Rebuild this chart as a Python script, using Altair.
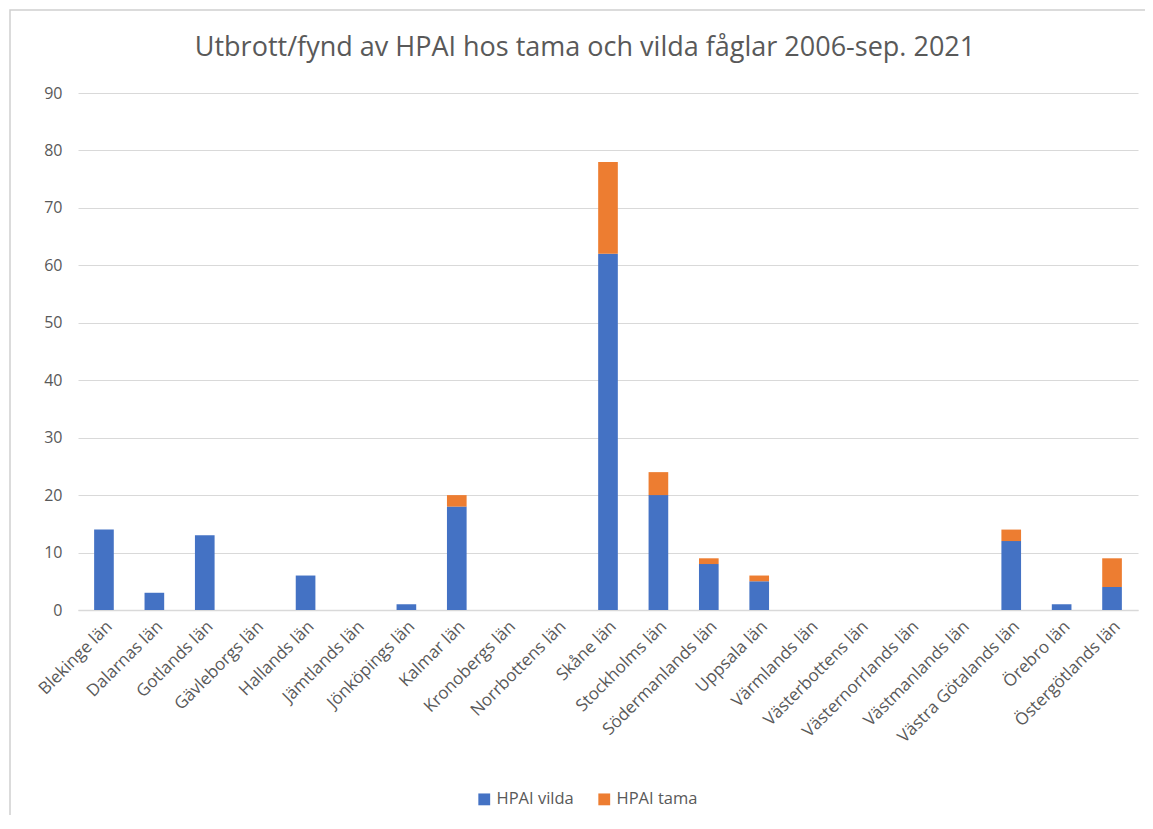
import altair as alt
import pandas as pd

lan = ["Blekinge län", "Dalarnas län", "Gotlands län", "Gävleborgs län", "Hallands län",
       "Jämtlands län", "Jönköpings län", "Kalmar län", "Kronobergs län", "Norrbottens län",
       "Skåne län", "Stockholms län", "Södermanlands län", "Uppsala län", "Värmlands län",
       "Västerbottens län", "Västernorrlands län", "Västmanlands län", "Västra Götalands län",
       "Örebro län", "Östergötlands län"]
vilda = [14, 3, 13, 0, 6, 0, 1, 18, 0, 0, 62, 20, 8, 5, 0, 0, 0, 0, 12, 1, 4]
tama = [0, 0, 0, 0, 0, 0, 0, 2, 0, 0, 16, 4, 1, 1, 0, 0, 0, 0, 2, 0, 5]
series = ["HPAI vilda", "HPAI tama"]
colors = ["#4472C4", "#ED7D31"]
title = "Utbrott/fynd av HPAI hos tama och vilda fåglar 2006-sep. 2021"

rows = []
for i, l in enumerate(lan):
    rows.append({"lan": l, "serie": series[0], "v": vilda[i], "o": 0})
    rows.append({"lan": l, "serie": series[1], "v": tama[i], "o": 1})
df = pd.DataFrame(rows)

FONT = "Open Sans"
GREY = "#595959"

bars = alt.Chart(df).mark_bar().encode(
    x=alt.X("lan:N", sort=lan, title=None,
            scale=alt.Scale(paddingInner=0.61, paddingOuter=0.32),
            axis=alt.Axis(labelAngle=-45, labelFontSize=17, labelColor=GREY, labelFont=FONT,
                          ticks=False, domainColor="#d9d9d9", domainWidth=1.5, labelPadding=8,
                          labelLimit=300)),
    y=alt.Y("v:Q", stack="zero", title=None,
            scale=alt.Scale(domain=[0, 90]),
            axis=alt.Axis(values=list(range(0, 91, 10)), labelFontSize=16, labelColor=GREY,
                          labelFont=FONT, ticks=False, domain=False, gridColor="#d9d9d9",
                          gridWidth=1.2, labelPadding=16)),
    color=alt.Color("serie:N", scale=alt.Scale(domain=series, range=colors),
                    legend=alt.Legend(title=None, orient="none", direction="horizontal",
                                      legendX=398, legendY=698, symbolType="square",
                                      symbolSize=140, symbolStrokeWidth=0,
                                      labelFontSize=16.5, labelColor=GREY, labelFont=FONT,
                                      columnPadding=22)),
    order=alt.Order("o:Q"),
)

frame = alt.Chart(pd.DataFrame({"a": [0]})).mark_rect(
    fill=None, stroke="#d0d0d0", strokeWidth=1.5
).encode(x=alt.value(-68), x2=alt.value(1100), y=alt.value(-83), y2=alt.value(760))

title_text = alt.Chart(pd.DataFrame({"t": [title]})).mark_text(
    font=FONT, fontSize=27, color=GREY, align="center", baseline="middle"
).encode(x=alt.value(507), y=alt.value(-45), text="t:N")

chart = alt.layer(frame, bars, title_text).properties(
    width=1060, height=517,
    autosize=alt.AutoSizeParams(type="none"),
    padding={"left": 70, "top": 85, "right": 7, "bottom": 205},
).configure_view(stroke=None)

chart.save("out.html", embed_options={"renderer": "svg", "actions": False})
